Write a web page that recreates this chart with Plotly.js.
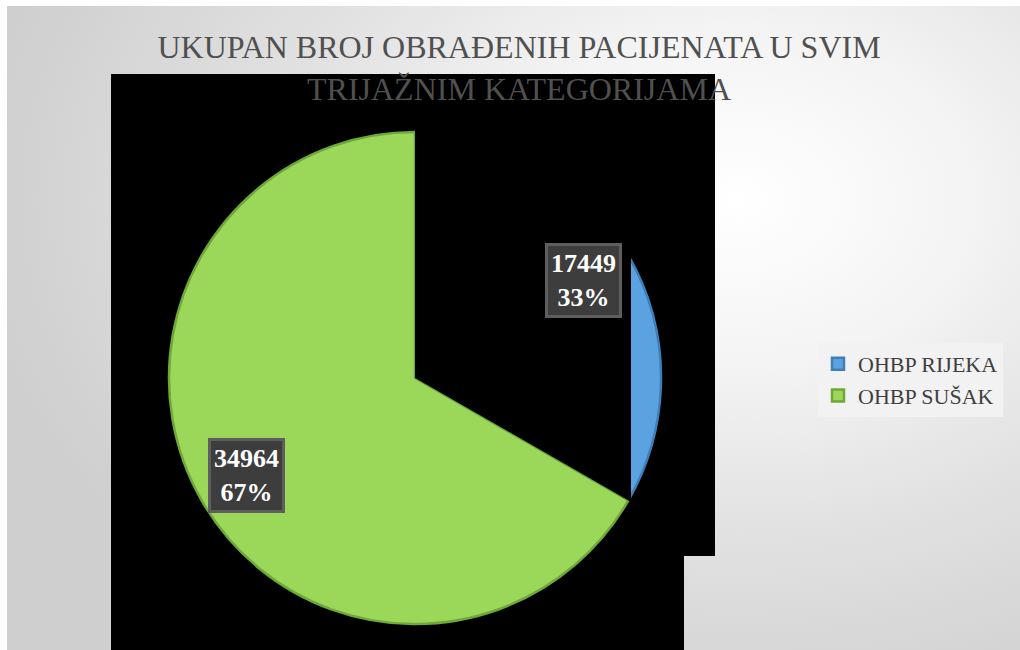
<!DOCTYPE html>
<html>
<head>
<meta charset="utf-8">
<script src="https://cdn.plot.ly/plotly-3.0.1.min.js"></script>
<style>
  html, body { margin: 0; padding: 0; background: #ffffff; }
  #wrap { position: absolute; left: 0; top: 0; width: 1020px; height: 650px; background: #ffffff; }
  #bg { position: absolute; left: 7px; top: 6px; width: 1013px; height: 644px;
        background: radial-gradient(ellipse 75% 85% at 72% 30%, #ffffff 0%, #f4f4f4 30%, #e2e2e2 60%, #cfcfcf 100%); }
  #chart { position: absolute; left: 0; top: 0; width: 1020px; height: 650px; }
</style>
</head>
<body>
<div id="wrap"><div id="bg"></div><div id="chart"></div></div>
<script>
// ---- data ----
const categories = ["OHBP RIJEKA", "OHBP SUŠAK"];
const patientCounts = [17449, 34964];
const sliceColors = ["#5ba3e0", "#9bd85a"];
const chartTitle = "UKUPAN BROJ OBRAĐENIH PACIJENATA U SVIM<br>TRIJAŽNIM KATEGORIJAMA";

// ---- layout geometry (pixels) ----
const W = 1020, H = 650;
const cx = 415, cy = 378, R = 246;
const px = x => x / W;
const py = y => 1 - y / H;
const SERIF = "Liberation Serif";

const total = patientCounts.reduce((a, b) => a + b, 0);

// label annotations, positioned from the data (slice mid-angles, clockwise from 12 o'clock)
const annotations = [];
let cum = 0;
patientCounts.forEach((v, i) => {
  const mid = 2 * Math.PI * (cum + v / 2) / total;
  cum += v;
  const f = 0.79;
  const lx = cx + f * R * Math.sin(mid);
  const ly = cy - f * R * Math.cos(mid);
  const pct = Math.round(100 * v / total);
  annotations.push({
    x: px(lx), y: py(ly), xref: "paper", yref: "paper",
    xanchor: "center", yanchor: "middle",
    text: "<b>" + v + "<br>" + pct + "%</b>",
    showarrow: false,
    font: { family: SERIF, size: 26, color: "#ffffff" },
    bgcolor: "#3d3d3d", bordercolor: "#5e5e5e", borderwidth: 3, borderpad: 3,
    align: "center"
  });
});

// black rendering artefacts of the reference
const firstAngle = 2 * Math.PI * patientCounts[0] / total;
const cutX = 631;
const tAtCut = (cutX - cx) / Math.sin(firstAngle);
const yAtCut = cy - tAtCut * Math.cos(firstAngle);
const coverPath = "M " + px(cx) + "," + py(cy) +
  " L " + px(cx) + "," + py(cy - R - 6) +
  " L " + px(cutX) + "," + py(cy - R - 6) +
  " L " + px(cutX) + "," + py(yAtCut) + " Z";

const shapes = [
  { type: "rect", xref: "paper", yref: "paper", layer: "below",
    x0: px(111), x1: px(715), y0: py(556), y1: py(74), fillcolor: "#000000", line: { width: 0 } },
  { type: "rect", xref: "paper", yref: "paper", layer: "below",
    x0: px(111), x1: px(684), y0: 0, y1: py(556), fillcolor: "#000000", line: { width: 0 } },
  { type: "path", xref: "paper", yref: "paper", layer: "above",
    path: coverPath, fillcolor: "#000000", line: { width: 0 } }
];

const trace = {
  type: "pie",
  labels: categories,
  values: patientCounts,
  sort: false,
  direction: "clockwise",
  rotation: 0,
  textinfo: "none",
  hoverinfo: "label+value+percent",
  marker: { colors: sliceColors, line: { color: ["#3f7fb8", "#6fa838"], width: 2.5 } },
  domain: { x: [px(cx - R), px(cx + R)], y: [py(cy + R), py(cy - R)] }
};

const layout = {
  width: W, height: H,
  margin: { l: 0, r: 0, t: 0, b: 0 },
  paper_bgcolor: "rgba(0,0,0,0)",
  plot_bgcolor: "rgba(0,0,0,0)",
  title: {
    text: chartTitle,
    x: 519 / W, xanchor: "center", xref: "paper",
    y: 1 - 58 / H, yanchor: "middle", yref: "container",
    font: { family: SERIF, size: 32, color: "#505050" }
  },
  showlegend: true,
  legend: {
    x: px(818), xanchor: "left", y: py(380), yanchor: "middle",
    bgcolor: "#f2f2f2", borderwidth: 0,
    font: { family: SERIF, size: 22, color: "#404040" },
    itemwidth: 30
  },
  shapes: shapes,
  annotations: annotations
};

Plotly.newPlot("chart", [trace], layout, { displayModeBar: false, staticPlot: true });
</script>
</body>
</html>
